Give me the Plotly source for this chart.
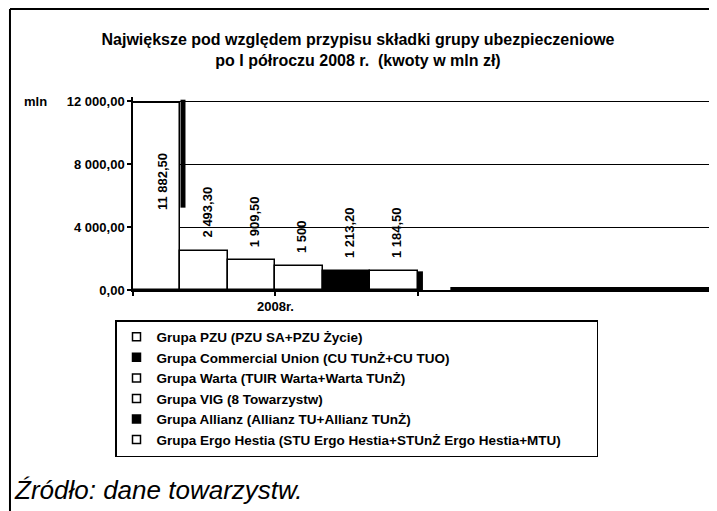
import plotly.graph_objects as go

groups = [
    "Grupa PZU (PZU SA+PZU Życie)",
    "Grupa Commercial Union (CU TUnŻ+CU TUO)",
    "Grupa Warta (TUIR Warta+Warta TUnŻ)",
    "Grupa VIG (8 Towarzystw)",
    "Grupa Allianz (Allianz TU+Allianz TUnŻ)",
    "Grupa Ergo Hestia (STU Ergo Hestia+STUnŻ Ergo Hestia+MTU)",
]
values = [11882.5, 2493.3, 1909.5, 1500, 1213.2, 1184.5]
value_labels = ["11 882,50", "2 493,30", "1 909,50", "1 500", "1 213,20", "1 184,50"]
bar_colors = ["white", "white", "white", "white", "black", "white"]
legend_colors = ["white", "black", "white", "white", "black", "white"]
category_label = "2008r."
y_tickvals = [0, 4000, 8000, 12000]
y_ticktext = ["0,00", "4 000,00", "8 000,00", "12 000,00"]

FONT = "Liberation Sans, Arial, sans-serif"
positions = list(range(len(groups)))

# page has an 8px body margin: figure is drawn 8px in from the window edge
OFF = 8
W, H = 717 - OFF, 511 - OFF

# pad the longest legend entry so the legend box gets the reference's width
longest = max(len(g) for g in groups)
legend_names = [g + ("\u00a0" * 8 if len(g) == longest else "") for g in groups]

fig = go.Figure()
fig.add_trace(go.Bar(
    x=positions, y=values, width=1.0,
    marker=dict(color=bar_colors, line=dict(color="black", width=1.5)),
    showlegend=False, hoverinfo="skip",
))
for name, col in zip(legend_names, legend_colors):
    fig.add_trace(go.Scatter(
        x=[None], y=[None], mode="markers", name=name,
        marker=dict(symbol="square", size=8, color=col,
                    line=dict(color="black", width=1.5)),
    ))

# value labels
for i, (v, lab) in enumerate(zip(values, value_labels)):
    if i == 0:
        fig.add_annotation(x=positions[i], y=v, text=lab, textangle=-90,
                           showarrow=False, yanchor="top", yshift=-48, xshift=6,
                           font=dict(family=FONT, size=13, color="black", weight="bold"))
    else:
        fig.add_annotation(x=positions[i], y=v, text=lab, textangle=-90,
                           showarrow=False, yanchor="bottom", yshift=11, xshift=3,
                           font=dict(family=FONT, size=13, color="black", weight="bold"))

# 3D-like depth sides of bars
fig.add_shape(type="rect", xref="x", yref="y", xsizemode="pixel",
              xanchor=positions[0] + 0.5, x0=0, x1=5,
              y0=values[0] * 0.44, y1=values[0] + 200,
              fillcolor="black", line=dict(width=0))
fig.add_shape(type="rect", xref="x", yref="y", xsizemode="pixel",
              xanchor=positions[5] + 0.5, x0=0, x1=5,
              y0=0, y1=values[5],
              fillcolor="black", line=dict(width=0))
# floor strip & right wall edges
fig.add_shape(type="rect", xref="x domain", yref="y domain",
              x0=0.55, x1=1.0, y0=0, y1=0.016,
              fillcolor="black", line=dict(width=0))
fig.add_shape(type="line", xref="x domain", yref="y domain",
              x0=1, x1=1, y0=1, y1=0.87, line=dict(color="black", width=1.5))
fig.add_shape(type="line", xref="x domain", yref="y domain",
              x0=1, x1=1, y0=0.12, y1=0, line=dict(color="black", width=1.5))

# outer frame (top edge as high as the figure allows)
frame_top = (290 - (OFF + 1)) / 193
fig.add_shape(type="line", xref="paper", yref="paper",
              x0=-0.2132, x1=-0.2132, y0=frame_top, y1=-1.2,
              line=dict(color="black", width=2))
fig.add_shape(type="line", xref="paper", yref="paper",
              x0=-0.2132, x1=1.1, y0=frame_top, y1=frame_top,
              line=dict(color="black", width=2))

fig.add_annotation(xref="paper", yref="paper", x=-0.145, y=(290 - 101) / 193,
                   text="mln", showarrow=False, xanchor="right", yanchor="middle",
                   font=dict(family=FONT, size=13, color="black", weight="bold"))
fig.add_annotation(xref="paper", yref="paper", x=(12 - 133) / 577, y=(290 - 490) / 193,
                   text="Źródło: dane towarzystw.", showarrow=False,
                   xanchor="left", yanchor="middle",
                   font=dict(family=FONT, size=26, color="black", style="italic"))

fig.update_layout(
    width=W, height=H,
    margin=dict(l=133 - OFF, r=717 - 710, t=97 - OFF, b=511 - 290, autoexpand=False),
    paper_bgcolor="white", plot_bgcolor="white",
    title=dict(
        text="Największe pod względem przypisu składki grupy ubezpieczeniowe<br>po I półroczu 2008 r.  (kwoty w mln zł)",
        x=(358 - OFF) / W, xref="container", xanchor="center",
        y=1 - (45 - OFF) / H, yref="container", yanchor="top",
        font=dict(family=FONT, size=16, color="black", weight="bold"),
    ),
    bargap=0,
    xaxis=dict(range=[-0.5, 11.65], showgrid=False, zeroline=False, automargin=False,
               showline=True, linecolor="black", linewidth=1.5,
               ticks="outside", ticklen=4, tickcolor="black", tickwidth=1.5,
               tickvals=[-0.5, 2.5, 5.5, 11.65],
               ticktext=["", category_label, "", ""],
               tickfont=dict(family=FONT, size=13, color="black", weight="bold")),
    yaxis=dict(range=[0, (290 - 97) / 0.01575], showgrid=True, gridcolor="black",
               gridwidth=1.2, zeroline=False, automargin=False,
               showline=True, linecolor="black", linewidth=1.5,
               ticks="outside", ticklen=4, tickcolor="black", tickwidth=1.5,
               tickvals=y_tickvals, ticktext=y_ticktext,
               tickfont=dict(family=FONT, size=13, color="black", weight="bold")),
    legend=dict(xref="container", yref="container",
                x=(115 - OFF) / W, y=1 - (320 - OFF) / H, xanchor="left", yanchor="top",
                bgcolor="white", bordercolor="black", borderwidth=1.5,
                font=dict(family=FONT, size=13.5, color="black", weight="bold")),
    showlegend=True,
)
fig.write_html("out.html")
